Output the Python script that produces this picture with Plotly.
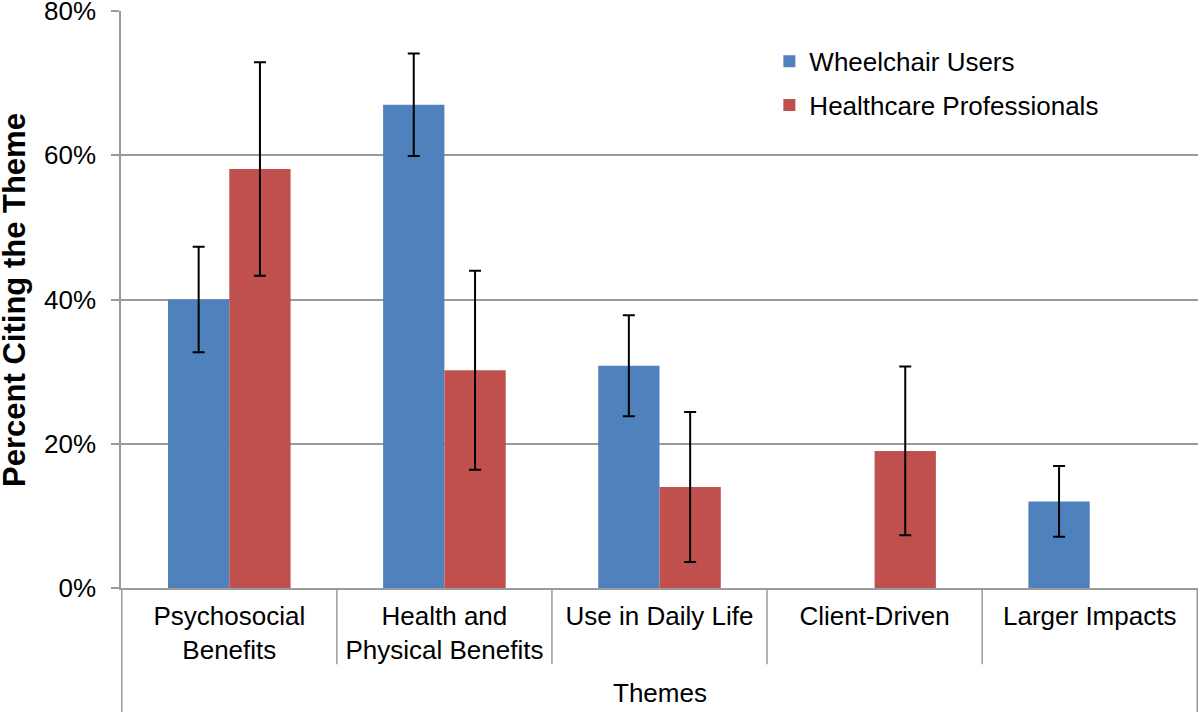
import plotly.graph_objects as go

categories = ["Psychosocial<br>Benefits", "Health and<br>Physical Benefits", "Use in Daily Life",
              "Client-Driven", "Larger Impacts"]
wheelchair_users = [40.0, 67.0, 30.8, None, 12.0]
wheelchair_err = [7.3, 7.1, 7.0, None, 4.9]
healthcare_pros = [58.1, 30.2, 14.0, 19.0, None]
healthcare_err = [14.8, 13.8, 10.4, 11.7, None]
y_ticks = [0, 20, 40, 60, 80]
y_tick_text = [f"{v}%" for v in y_ticks]

FONT = "Arial, Liberation Sans, sans-serif"
GRID = "#9a9a9a"
FS = 26

fig = go.Figure()
fig.add_trace(go.Bar(
    name="Wheelchair Users", x=categories, y=wheelchair_users,
    marker=dict(color="#4F81BD", line=dict(width=0)),
    error_y=dict(type="data", array=wheelchair_err, visible=True, color="black", thickness=2, width=6),
    legendgroup="a",
))
fig.add_trace(go.Bar(
    name="Healthcare Professionals", x=categories, y=healthcare_pros,
    marker=dict(color="#C0504D", line=dict(width=0)),
    error_y=dict(type="data", array=healthcare_err, visible=True, color="black", thickness=2, width=6),
    legendgroup="b",
))

# category divider lines of the Excel-style category axis
shapes = []
for i in range(len(categories) + 1):
    xpos = i - 0.5
    full = i == 0 or i == len(categories)
    shapes.append(dict(type="line", xref="x", yref="paper", x0=xpos, x1=xpos,
                       y0=0, y1=-0.23 if full else -0.132,
                       line=dict(color=GRID, width=1.5)))

annotations = [
    dict(text="<b>Percent Citing the Theme</b>", xref="paper", yref="paper",
         x=-0.099, y=0.5, xanchor="center", yanchor="middle", textangle=-90,
         showarrow=False, font=dict(size=31, family=FONT, color="black")),
    dict(text="Themes", xref="paper", yref="paper",
         x=0.5, y=-0.182, xanchor="center", yanchor="middle",
         showarrow=False, font=dict(size=FS, family=FONT, color="black")),
]

fig.update_layout(
    width=1200, height=712,
    margin=dict(l=121, r=2, t=11, b=124),
    paper_bgcolor="white", plot_bgcolor="white",
    barmode="group", bargap=0.43, bargroupgap=0,
    font=dict(family=FONT, color="black", size=FS),
    showlegend=True,
    legend=dict(x=0.602, y=0.9536, xanchor="left", yanchor="top",
                font=dict(size=FS, family=FONT, color="black"),
                traceorder="grouped", tracegroupgap=7, bgcolor="rgba(0,0,0,0)"),
    shapes=shapes,
    annotations=annotations,
)
fig.update_yaxes(
    range=[0, 80], tickmode="array", tickvals=y_ticks, ticktext=y_tick_text,
    showgrid=True, gridcolor=GRID, gridwidth=1.5,
    showline=True, linecolor=GRID, linewidth=1.5,
    ticks="outside", ticklen=8, tickcolor=GRID, tickwidth=1.5,
    tickfont=dict(size=FS, family=FONT, color="black"),
    ticklabelstandoff=10, ticklabeloverflow="allow",
    zeroline=False,
    automargin=False,
)
fig.update_xaxes(
    showline=True, linecolor=GRID, linewidth=1.5,
    ticks="", showgrid=False,
    tickfont=dict(size=FS, family=FONT, color="black"),
    ticklabelstandoff=4, ticklabeloverflow="allow",
    automargin=False,
)

fig.write_html("out.html", config={"displayModeBar": False},
               post_script="document.body.style.margin='0px';")
